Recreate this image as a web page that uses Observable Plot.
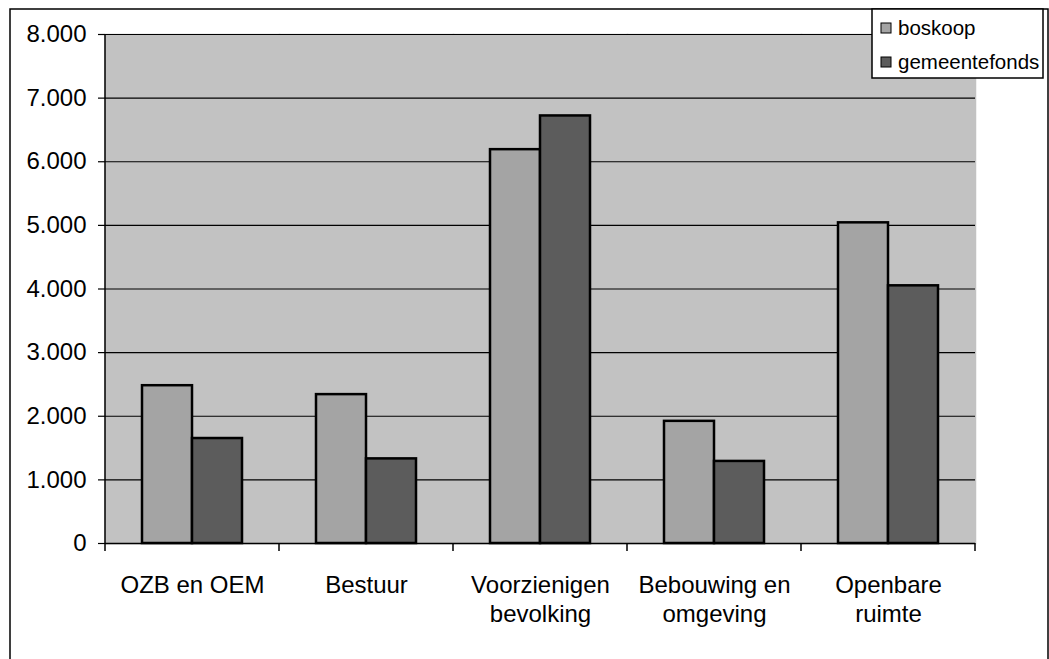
<!DOCTYPE html>
<html>
<head>
<meta charset="utf-8">
<script src="https://cdn.jsdelivr.net/npm/d3@7"></script>
<script src="https://cdn.jsdelivr.net/npm/@observablehq/plot@0.6"></script>
<style>
  html, body { margin: 0; padding: 0; background: #fff; }
  #chart { width: 1049px; height: 659px; }
</style>
</head>
<body>
<div id="chart"></div>
<script>
const categories = ["OZB en OEM", "Bestuur", "Voorzienigen bevolking", "Bebouwing en omgeving", "Openbare ruimte"];
const categoryLabels = ["OZB en OEM", "Bestuur", "Voorzienigen\nbevolking", "Bebouwing en\nomgeving", "Openbare\nruimte"];
const series = ["boskoop", "gemeentefonds"];
const boskoop = [2480, 2340, 6190, 1920, 5040];
const gemeentefonds = [1650, 1330, 6720, 1290, 4050];
const yTicks = [0, 1000, 2000, 3000, 4000, 5000, 6000, 7000, 8000];
const seriesColors = ["#a4a4a4", "#5c5c5c"];

const values = {boskoop, gemeentefonds};
const data = [];
categories.forEach((c, i) => {
  series.forEach(s => data.push({category: c, series: s, value: values[s][i]}));
});

const nl = d3.formatLocale({decimal: ",", thousands: ".", grouping: [3], currency: ["€", ""]});
const fmt = nl.format(",");
const labelOf = new Map(categories.map((c, i) => [c, categoryLabels[i]]));

const font = "'Liberation Sans', Arial, sans-serif";
const bg = "#c2c2c2";

const plot = Plot.plot({
  width: 1049,
  height: 659,
  marginLeft: 104,
  marginRight: 74,
  marginTop: 34,
  marginBottom: 116,
  style: {fontFamily: font, background: "transparent", color: "black"},
  fx: {domain: categories, padding: 0, label: null},
  x: {domain: series, paddingInner: 0, paddingOuter: 0.74, axis: null},
  y: {domain: [0, 8000], label: null},
  color: {domain: series, range: seriesColors},
  marks: [
    Plot.frame({fill: bg, stroke: bg, strokeWidth: 1.5}),
    Plot.gridY(yTicks, {stroke: "black", strokeOpacity: 1, strokeWidth: 1.2}),
    Plot.barY(data, {fx: "category", x: "series", y: "value", fill: "series", stroke: "black", strokeWidth: 2.5, inset: 0}),
    Plot.ruleY([0], {stroke: "black", strokeWidth: 1.5}),
    Plot.axisY(yTicks, {tickSize: 7, tickPadding: 12, tickFormat: fmt, fontSize: 24, label: null, strokeWidth: 1.2}),
    Plot.axisFx({anchor: "bottom", tickSize: 0, tickPadding: 30, fontSize: 24, lineHeight: 1.17, tickFormat: c => labelOf.get(c), label: null})
  ]
});

document.getElementById("chart").appendChild(plot);

// decorations: axis line, boundary ticks, outer frame, legend
const svg = d3.select(plot);
const fxs = plot.scale("fx");
const ys = plot.scale("y");
const y0 = ys.apply(0), yTop = ys.apply(8000);
const left = fxs.apply(categories[0]);
const bounds = categories.map(c => fxs.apply(c)).concat([fxs.apply(categories[categories.length - 1]) + fxs.bandwidth]);

svg.append("line")
  .attr("x1", left).attr("x2", left).attr("y1", yTop).attr("y2", y0 + 0.5)
  .attr("stroke", "black").attr("stroke-width", 1.5);
svg.append("g").selectAll("line").data(bounds).join("line")
  .attr("x1", d => d).attr("x2", d => d).attr("y1", y0).attr("y2", y0 + 8)
  .attr("stroke", "black").attr("stroke-width", 1.5);

// outer chart border
svg.append("rect")
  .attr("x", 10).attr("y", 9).attr("width", 1038).attr("height", 660)
  .attr("fill", "none").attr("stroke", "black").attr("stroke-width", 1.5);

// legend
const cs = plot.scale("color");
const lg = svg.append("g").attr("text-anchor", "start");
lg.append("rect")
  .attr("x", 872).attr("y", 9).attr("width", 171).attr("height", 69)
  .attr("fill", "white").attr("stroke", "black").attr("stroke-width", 1.5);
series.forEach((s, i) => {
  const cy = 28 + i * 34;
  lg.append("rect").attr("x", 881).attr("y", cy - 5).attr("width", 10).attr("height", 10)
    .attr("fill", cs.apply(s)).attr("stroke", "black").attr("stroke-width", 1);
  lg.append("text").attr("x", 898).attr("y", cy).attr("dy", "0.35em")
    .attr("text-anchor", "start")
    .attr("font-family", font).attr("font-size", 20.5).attr("fill", "black").text(s);
});
</script>
</body>
</html>
